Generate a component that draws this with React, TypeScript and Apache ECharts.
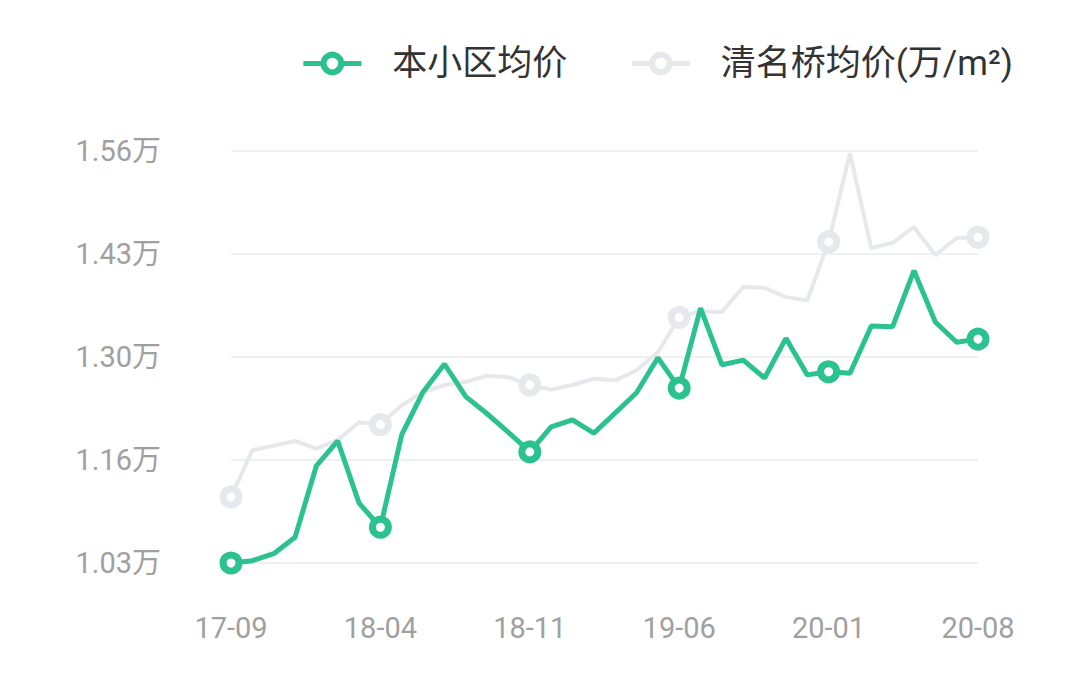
import { useRef, useEffect } from "react";
import * as echarts from "echarts";

const months = [
  "17-09", "17-10", "17-11", "17-12", "18-01", "18-02", "18-03",
  "18-04", "18-05", "18-06", "18-07", "18-08", "18-09", "18-10",
  "18-11", "18-12", "19-01", "19-02", "19-03", "19-04", "19-05",
  "19-06", "19-07", "19-08", "19-09", "19-10", "19-11", "19-12",
  "20-01", "20-02", "20-03", "20-04", "20-05", "20-06", "20-07",
  "20-08",
];

const communityPrice = [
  1.03, 1.033, 1.042, 1.063, 1.155, 1.187, 1.107,
  1.076, 1.195, 1.25, 1.286, 1.244, 1.222, 1.198,
  1.173, 1.205, 1.214, 1.197, 1.223, 1.249, 1.294,
  1.255, 1.358, 1.285, 1.291, 1.268, 1.319, 1.272,
  1.276, 1.274, 1.335, 1.334, 1.406, 1.34, 1.314,
  1.318,
];

const areaPrice = [
  1.115, 1.175, 1.181, 1.187, 1.177, 1.188, 1.211,
  1.208, 1.233, 1.25, 1.259, 1.263, 1.271, 1.269,
  1.259, 1.253, 1.259, 1.267, 1.265, 1.278, 1.301,
  1.346, 1.354, 1.353, 1.385, 1.384, 1.372, 1.368,
  1.443, 1.557, 1.435, 1.442, 1.462, 1.426, 1.448,
  1.449,
];

const seriesNames = ["本小区均价", "清名桥均价(万/m²)"];

const GREEN = "#2cc28f";
const GREY = "#e6e8eb";
const FONT = "Roboto, 'Noto Sans CJK SC', sans-serif";

export default function App() {
  const chartRef = useRef<HTMLDivElement>(null);
  useEffect(() => {
    document.body.style.margin = "0";
    if (!chartRef.current) return;
    const chart = echarts.init(chartRef.current, undefined, { renderer: "svg" });
    // only every 7th month carries a ring marker
    const markerSize = (_v: any, p: any) => (p.dataIndex % 7 === 0 ? 16 : 0);
    const option: echarts.EChartsOption = {
      animation: false,
      textStyle: { fontFamily: FONT },
      legend: {
        data: seriesNames,
        top: 41,
        right: 56,
        itemWidth: 58,
        itemHeight: 22,
        itemGap: 62,
        lineStyle: { width: 5 },
        itemStyle: { borderWidth: 6 },
        textStyle: { color: "#333", fontSize: 35, fontFamily: FONT, padding: [0, 0, 0, 26] },
      },
      grid: { left: 231, right: 96, top: 151, bottom: 119 },
      xAxis: {
        type: "category",
        data: months,
        boundaryGap: false,
        axisLine: { show: false },
        axisTick: { show: false },
        axisLabel: { interval: 6, color: "#a0a0a0", fontSize: 29, margin: 50, fontFamily: FONT },
      },
      yAxis: {
        type: "value",
        min: 1.03,
        max: 1.56,
        interval: 0.1325,
        axisLine: { show: false },
        axisTick: { show: false },
        axisLabel: {
          color: "#a0a0a0",
          fontSize: 29,
          margin: 70,
          fontFamily: FONT,
          formatter: (v: number) => (Math.round(v * 100 + 1e-6) / 100).toFixed(2) + "万",
        },
        splitLine: { lineStyle: { color: "#eff0f2", width: 2 } },
      },
      series: [
        {
          name: seriesNames[0],
          type: "line",
          data: communityPrice,
          z: 3,
          symbol: "circle",
          showAllSymbol: true,
          symbolSize: markerSize,
          lineStyle: { color: GREEN, width: 5 },
          itemStyle: { color: "#fff", borderColor: GREEN, borderWidth: 7 },
        },
        {
          name: seriesNames[1],
          type: "line",
          data: areaPrice,
          z: 2,
          symbol: "circle",
          showAllSymbol: true,
          symbolSize: markerSize,
          lineStyle: { color: GREY, width: 4 },
          itemStyle: { color: "#fff", borderColor: GREY, borderWidth: 7 },
        },
      ],
    };
    chart.setOption(option);
    return () => chart.dispose();
  }, []);
  return <div ref={chartRef} style={{ width: 1074, height: 682 }} />;
}
